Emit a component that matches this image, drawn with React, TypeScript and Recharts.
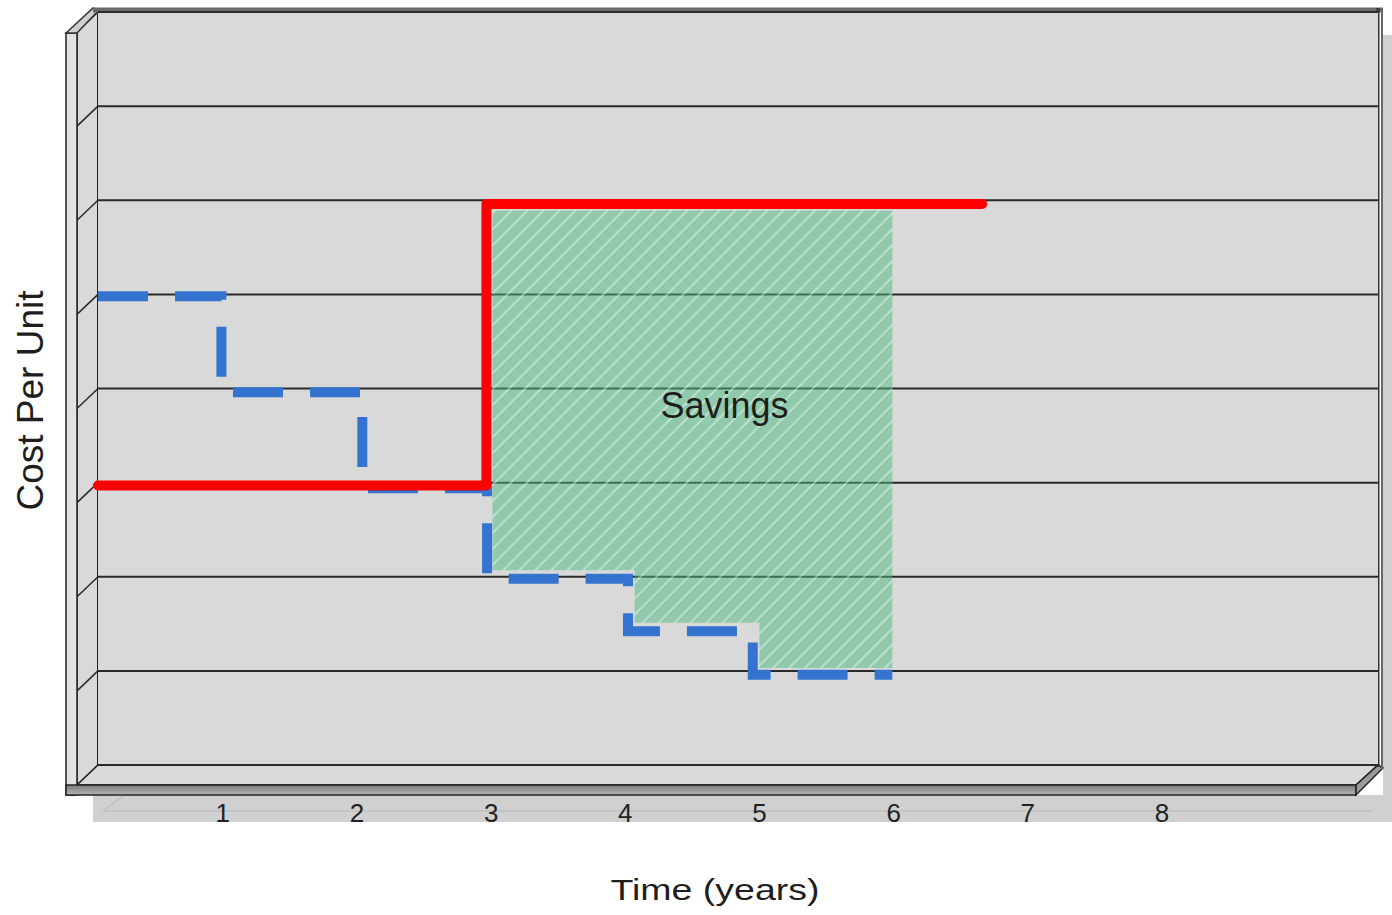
import React from 'react';
import {
  ComposedChart,
  XAxis,
  YAxis,
  CartesianGrid,
  Line,
  Area,
  ReferenceArea,
  ReferenceDot,
  Label,
} from 'recharts';

// ---------- data ----------
const xTicks = [1, 2, 3, 4, 5, 6, 7, 8];
const yLevels = [0, 1, 2, 3, 4, 5, 6, 7, 8];
const xDomain: [number, number] = [0.07, 9.61];

// red: current cost (step line)
const redX = [0.07, 2.965, 6.66];
const redY = [2.97, 5.96, 5.96];

// blue: declining cost (dashed step line)
const blueX = [0.07, 0.99, 2.04, 2.97, 4.02, 4.95, 5.99];
const blueY = [4.98, 3.96, 2.94, 1.98, 1.42, 0.96, 0.96];

// savings region
const savingsX = [3.01, 4.07, 5.0, 5.99];
const savingsLow = [2.07, 1.51, 1.03, 1.03];
const savingsHigh = [5.89, 5.89, 5.89, 5.89];

const savingsLabel = 'Savings';
const savingsPos = { x: 4.74, y: 3.82 };

const redData = redX.map((x, i) => ({ x, y: redY[i] }));
const blueData = blueX.map((x, i) => ({ x, y: blueY[i] }));
const savingsData = savingsX.map((x, i) => ({ x, range: [savingsLow[i], savingsHigh[i]] }));

const FONT = '"Liberation Sans", Arial, Helvetica, sans-serif';

// 3D frame decoration drawn around the plot area rectangle
const FrameShape = (props: any) => {
  const { x, y, width: w, height: h } = props;
  const dx = 21;
  const dz = 20;
  const lvl = h / 8;
  const wallLines = [1, 2, 3, 4, 5, 6, 7].map((i) => {
    const yy = y + h - i * lvl;
    return <line key={i} x1={x} y1={yy} x2={x - dx} y2={yy + dz} stroke="#2a2a2a" strokeWidth={1.5} />;
  });
  return (
    <g>
      {/* shadow */}
      <rect x={x - 5} y={y + h + 30} width={w + 20} height={27} fill="#d0d0d0" />
      <rect x={x + w + 5} y={y + 23} width={12} height={h + 10} fill="#d0d0d0" />
      <line x1={x + 5} y1={y + h + 46} x2={x + w - 5} y2={y + h + 46} stroke="#c0c0c0" strokeWidth={1.5} />
      <line x1={x + 5} y1={y + h + 46} x2={x + 27} y2={y + h + 30} stroke="#c0c0c0" strokeWidth={1.5} />
      {/* left wall */}
      <polygon
        points={`${x},${y} ${x - dx},${y + dz} ${x - dx},${y + h + dz} ${x},${y + h}`}
        fill="#d9d9d9"
        stroke="#2a2a2a"
        strokeWidth={1.5}
      />
      {wallLines}
      {/* wall thickness strip */}
      <rect x={x - 32} y={y + dz + 1} width={11} height={h + 9} fill="#e2e2e2" stroke="#222" strokeWidth={1.5} />
      <polygon
        points={`${x - 32},${y + dz + 1} ${x - 5},${y - 4} ${x},${y - 1} ${x - dx},${y + dz + 1}`}
        fill="#cfcfcf"
        stroke="#333"
        strokeWidth={1.5}
      />
      {/* floor */}
      <polygon
        points={`${x},${y + h} ${x + w},${y + h} ${x + w - 22},${y + h + dz} ${x - dx},${y + h + dz}`}
        fill="#d9d9d9"
        stroke="#222"
        strokeWidth={1.5}
      />
      <defs>
        <linearGradient id="slab" x1="0" y1="0" x2="0" y2="1">
          <stop offset="0" stopColor="#7a7a7a" />
          <stop offset="1" stopColor="#b5b5b5" />
        </linearGradient>
      </defs>
      <rect x={x - 32} y={y + h + dz} width={w - 22 + 32} height={10} fill="url(#slab)" stroke="#222" strokeWidth={1.5} />
      <polygon
        points={`${x + w - 22},${y + h + dz} ${x + w},${y + h} ${x + w + 5},${y + h + 3} ${x + w - 22},${y + h + dz + 10}`}
        fill="#9a9a9a"
        stroke="#222"
        strokeWidth={1.5}
      />
      {/* back plane edges */}
      <line x1={x} y1={y} x2={x} y2={y + h} stroke="#222" strokeWidth={2} />
      <line x1={x} y1={y + h} x2={x + w} y2={y + h} stroke="#222" strokeWidth={2} />
      <line x1={x - 5} y1={y - 2} x2={x + w + 5} y2={y - 2} stroke="#6a6a6a" strokeWidth={5} />
      <line x1={x} y1={y + 1} x2={x + w} y2={y + 1} stroke="#333" strokeWidth={2} />
      <line x1={x + w} y1={y - 4} x2={x + w} y2={y + h + 2} stroke="#333" strokeWidth={3} />
      <line x1={x + w + 4} y1={y - 4} x2={x + w + 4} y2={y + h + 4} stroke="#666" strokeWidth={2} />
    </g>
  );
};

const XTick = (props: any) => {
  const { x, y, payload } = props;
  return (
    <text x={x} y={y + 57} textAnchor="middle" fontFamily={FONT} fontSize={26} fill="#222">
      {payload.value}
    </text>
  );
};

const NoTick = () => <g />;

const XTitle = (props: any) => {
  const vb = props.viewBox || {};
  const cx = vb.x + vb.width / 2 - 23;
  return (
    <text
      x={cx}
      y={900}
      textAnchor="middle"
      fontFamily={FONT}
      fontSize={29}
      fill="#1e1e1e"
      textLength={209}
      lengthAdjust="spacingAndGlyphs"
    >
      Time (years)
    </text>
  );
};

const YTitle = (props: any) => {
  const vb = props.viewBox || {};
  const cy = vb.y + vb.height / 2 + 12;
  const bx = 43;
  return (
    <text
      x={bx}
      y={cy}
      transform={`rotate(-90, ${bx}, ${cy})`}
      textAnchor="middle"
      fontFamily={FONT}
      fontSize={36}
      fill="#1e1e1e"
      textLength={220}
      lengthAdjust="spacingAndGlyphs"
    >
      Cost Per Unit
    </text>
  );
};

const SavingsText = (props: any) => (
  <text
    x={props.cx}
    y={props.cy}
    textAnchor="middle"
    dominantBaseline="central"
    fontFamily={FONT}
    fontSize={36}
    fill="#1e1e1e"
  >
    {savingsLabel}
  </text>
);

export default function App() {
  return (
    <div style={{ position: 'absolute', left: 0, top: 0, width: 1392, height: 915, background: '#fff' }}>
      <ComposedChart width={1392} height={915} margin={{ top: 12, right: 14, bottom: 100, left: 38 }}>
        <defs>
          <pattern id="hatch" patternUnits="userSpaceOnUse" width={11.3} height={11.3} patternTransform="rotate(45)">
            <rect x={0} y={0} width={11.3} height={11.3} fill="rgba(72,186,125,0.5)" />
            <line x1={2} y1={0} x2={2} y2={11.3} stroke="rgba(255,255,255,0.5)" strokeWidth={1.6} />
          </pattern>
        </defs>
        <CartesianGrid
          vertical={false}
          horizontal
          fill="#d9d9d9"
          fillOpacity={1}
          stroke="#2a2a2a"
          strokeWidth={2}
        />
        <XAxis
          type="number"
          dataKey="x"
          domain={xDomain}
          ticks={xTicks}
          axisLine={false}
          tickLine={false}
          tickSize={0}
          tickMargin={0}
          height={50}
          tick={<XTick />}
          interval={0}
        >
          <Label content={<XTitle />} />
        </XAxis>
        <YAxis
          type="number"
          domain={[0, 8]}
          ticks={yLevels}
          axisLine={false}
          tickLine={false}
          tick={<NoTick />}
          interval={0}
          width={60}
        >
          <Label content={<YTitle />} />
        </YAxis>
        <ReferenceArea
          x1={xDomain[0]}
          x2={xDomain[1]}
          y1={0}
          y2={8}
          ifOverflow="visible"
          shape={<FrameShape />}
          zIndex={-150}
        />
        <Area
          data={savingsData}
          dataKey="range"
          type="stepAfter"
          fill="url(#hatch)"
          fillOpacity={1}
          stroke="none"
          isAnimationActive={false}
          dot={false}
          activeDot={false}
        />
        <Line
          data={blueData}
          dataKey="y"
          type="stepAfter"
          stroke="#3474d0"
          strokeWidth={10}
          strokeDasharray="50 27"
          strokeLinecap="butt"
          dot={false}
          activeDot={false}
          isAnimationActive={false}
        />
        <Line
          data={redData}
          dataKey="y"
          type="stepAfter"
          stroke="#ff0000"
          strokeWidth={10}
          strokeLinecap="round"
          strokeLinejoin="round"
          dot={false}
          activeDot={false}
          isAnimationActive={false}
        />
        <ReferenceDot x={savingsPos.x} y={savingsPos.y} r={0} shape={<SavingsText />} ifOverflow="visible" />
      </ComposedChart>
    </div>
  );
}
